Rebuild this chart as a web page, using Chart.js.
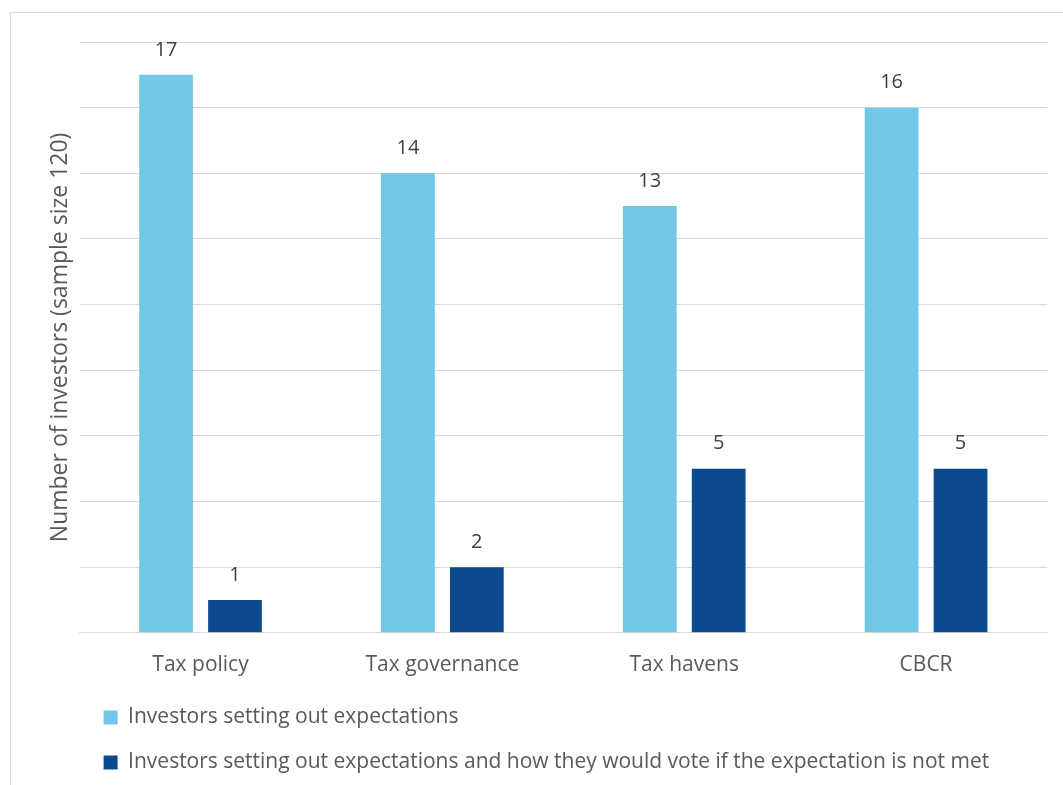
<!DOCTYPE html>
<html>
<head>
<meta charset="utf-8">
<script src="https://cdn.jsdelivr.net/npm/chart.js@4.4.1/dist/chart.umd.min.js"></script>
<style>
  html, body { margin: 0; padding: 0; background: #fff; overflow: hidden; }
  #frame { position: absolute; left: 10px; top: 12px; width: 1100px; height: 800px; border: 1px solid #d9d9d9; }
  #wrap { position: absolute; left: 0; top: 0; width: 1063px; height: 785px; }
</style>
</head>
<body>
<div id="frame"></div>
<div id="wrap"><canvas id="chart"></canvas></div>
<script>
// data
const categories = ['Tax policy', 'Tax governance', 'Tax havens', 'CBCR'];
const expectations = [17, 14, 13, 16];
const voteIfNotMet = [1, 2, 5, 5];
const seriesNames = [
    'Investors setting out expectations',
    'Investors setting out expectations and how they would vote if the expectation is not met'
];
const yTitle = 'Number of investors (sample size 120)';

const FONT = '"Open Sans", Lato, sans-serif';

// simple value labels above each bar
const valueLabels = {
    id: 'valueLabels',
    afterDatasetsDraw(chart) {
        const ctx = chart.ctx;
        ctx.save();
        ctx.font = '20px ' + FONT;
        ctx.fillStyle = '#404040';
        ctx.textAlign = 'center';
        ctx.textBaseline = 'middle';
        chart.data.datasets.forEach((ds, i) => {
            chart.getDatasetMeta(i).data.forEach((bar, j) => {
                ctx.fillText(ds.data[j], bar.x, bar.y - 25);
            });
        });
        ctx.restore();
    }
};

const ctx = document.getElementById('chart').getContext('2d');
new Chart(ctx, {
    type: 'bar',
    data: {
        labels: categories,
        datasets: [{
            label: seriesNames[0],
            data: expectations,
            backgroundColor: '#70c8e6',
            categoryPercentage: 0.57,
            barPercentage: 0.78
        }, {
            label: seriesNames[1],
            data: voteIfNotMet,
            backgroundColor: '#0c4a8e',
            categoryPercentage: 0.57,
            barPercentage: 0.78
        }]
    },
    options: {
        responsive: true,
        maintainAspectRatio: false,
        animation: false,
        layout: { padding: { left: 40, right: 16, top: 42, bottom: 2 } },
        scales: {
            x: {
                grid: { display: false },
                border: { color: '#d9d9d9', width: 1 },
                ticks: { font: { family: FONT, size: 21 }, color: '#595959', padding: 12 },
                afterFit(scale) { scale.height -= 7; }
            },
            y: {
                min: 0, max: 18,
                ticks: { display: false, stepSize: 2 },
                grid: { color: '#d9d9d9', drawTicks: false },
                border: { display: false },
                title: {
                    display: true, text: yTitle, color: '#595959',
                    font: { family: FONT, size: 23 }, padding: { top: 7, bottom: 5 }
                }
            }
        },
        plugins: {
            legend: {
                position: 'bottom',
                align: 'start',
                fullSize: false,
                labels: {
                    font: { family: FONT, size: 21 }, color: '#595959',
                    boxWidth: 14, boxHeight: 14, padding: 24
                }
            },
            tooltip: { enabled: false }
        }
    },
    plugins: [valueLabels]
});
</script>
</body>
</html>
